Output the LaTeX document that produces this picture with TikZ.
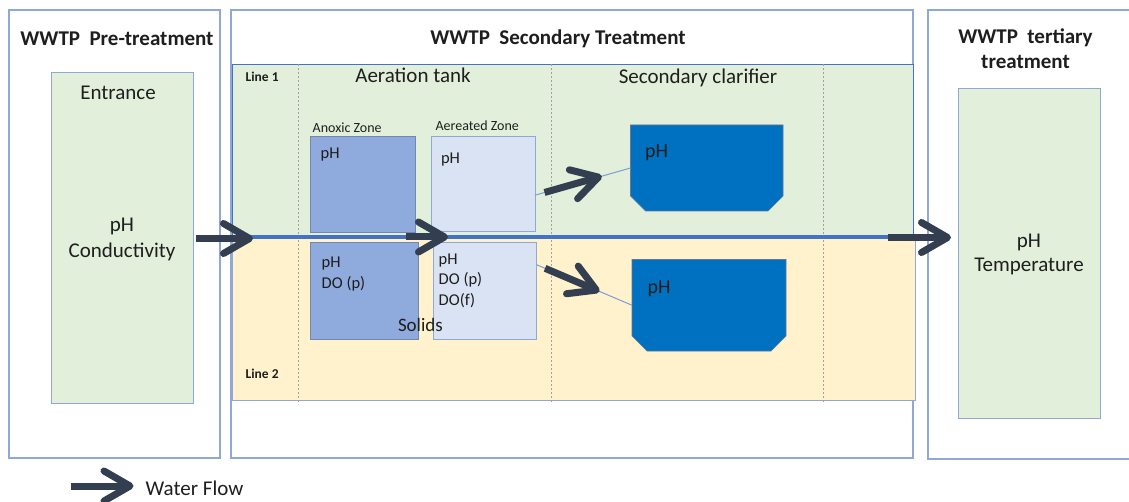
\documentclass[tikz,border=0pt]{standalone}
\usepackage{fontspec}
\setmainfont{Carlito}
\usetikzlibrary{arrows.meta,calc}

\definecolor{stageline}{HTML}{8EA9D8}
\definecolor{panelline}{HTML}{4472C4}
\definecolor{greenfill}{HTML}{E2EFDA}
\definecolor{yellowfill}{HTML}{FFF2CC}
\definecolor{anoxfill}{HTML}{8FAADC}
\definecolor{aerfill}{HTML}{DAE3F3}
\definecolor{clarfill}{HTML}{0070C0}
\definecolor{flowdark}{HTML}{333F50}
\definecolor{mainblue}{HTML}{4472C4}
\definecolor{thinblue}{HTML}{7C9DD6}
\definecolor{sepgray}{HTML}{A0A0A0}
\definecolor{ink}{HTML}{1E1E1E}

\begin{document}
\begin{tikzpicture}[x=1pt,y=-1pt,
  boxbase/.style={inner sep=0pt, outer sep=0pt, anchor=north west},
  stage/.style={boxbase, draw=stageline, line width=1.1pt, fill=white},
  greenbox/.style={boxbase, draw=stageline, line width=1pt, fill=greenfill},
  anox/.style={boxbase, draw=stageline!80!black, line width=0.8pt, fill=anoxfill},
  aer/.style={boxbase, draw=stageline, line width=0.8pt, fill=aerfill},
  clarbox/.style={fill=clarfill, draw=stageline!70!black, line width=0.6pt},
  lbl/.style={inner sep=0pt, outer sep=0pt, text=ink},
  title/.style={lbl, anchor=base, font=\fontsize{21}{25}\selectfont\bfseries},
  big/.style={lbl, font=\fontsize{21}{25}\selectfont},
  mid/.style={lbl, anchor=base west, font=\fontsize{16.5}{20}\selectfont},
  small/.style={lbl, anchor=base west, font=\fontsize{14}{17}\selectfont},
  linetag/.style={lbl, anchor=base west, font=\fontsize{13.5}{16}\selectfont\bfseries},
  flow/.style={draw=flowdark, line width=7pt, -{Straight Barb[length=26pt, width=30pt, round]}},
  feed/.style={draw=thinblue, line width=1pt},
  sep/.style={draw=sepgray, line width=0.8pt, dash pattern=on 2pt off 2pt}
]
\useasboundingbox (0,0) rectangle (1129,502);

% ---- stage frames ----
\node[stage, minimum width=211pt, minimum height=448pt] (pre) at (9,10) {};
\node[stage, minimum width=682pt, minimum height=448pt] (sec) at (231,10) {};
\node[boxbase, minimum width=201pt, minimum height=449pt] (ter) at (928,10) {};
\draw[draw=stageline, line width=1.1pt]
  (ter.north east) -- (ter.north west) -- (ter.south west) -- (ter.south east);

% ---- pre-treatment and tertiary measuring boxes ----
\node[greenbox, minimum width=142pt, minimum height=330pt] (entr) at (51,73) {};
\node[greenbox, minimum width=142pt, minimum height=329pt] (tbox) at (958,89) {};

% ---- secondary treatment: two lines ----
\node[boxbase, fill=greenfill, draw=panelline, line width=0.8pt,
      minimum width=681pt, minimum height=173.5pt] (line1) at (232,64) {};
\node[boxbase, fill=yellowfill, draw=stageline, line width=0.8pt,
      minimum width=683pt, minimum height=162.5pt] (line2) at (232,237.5) {};

% column separators
\draw[sep] (298,64) -- (298,404);
\draw[sep] (551.5,64) -- (551.5,404);
\draw[sep] (823.5,64) -- (823.5,404);

% aeration tank zones
\node[anox, minimum width=105.5pt, minimum height=96.5pt] (anxU) at (310,136) {};
\node[anox, minimum width=108pt, minimum height=97pt] (anxL) at (310,242) {};
\node[aer, minimum width=104pt, minimum height=95.5pt] (aerU) at (431,136) {};
\node[aer, minimum width=103.5pt, minimum height=96.5pt] (aerL) at (433,242.5) {};

% secondary clarifiers (bottom corners cut)
\node[boxbase, minimum width=152.5pt, minimum height=86pt] (clU) at (630.5,125) {};
\node[boxbase, minimum width=154pt, minimum height=91.5pt] (clL) at (632,259.5) {};
\foreach \c in {clU,clL}{
  \draw[clarbox] (\c.north west) -- (\c.north east)
    -- ($(\c.south east)+(0,-15)$) -- ($(\c.south east)+(-15,0)$)
    -- ($(\c.south west)+(15,0)$) -- ($(\c.south west)+(0,-15)$) -- cycle;
}

% ---- main water line ----
\coordinate (blueA) at (245,237.5);
\coordinate (blueB) at (890,237.5);
\draw[draw=mainblue, line width=4pt] (blueA) -- (blueB);

% feeds from aerated zones to clarifiers
\coordinate (fuA) at ($(aerU.north east)!0.62!(aerU.south east)$);
\coordinate (fuB) at ($(clU.north west)!0.5!(clU.south west)$);
\coordinate (flA) at ($(aerL.north east)!0.23!(aerL.south east)$);
\coordinate (flB) at ($(clL.north west)!0.5!(clL.south west)$);
\draw[feed] (fuA) -- (fuB);
\draw[feed] (flA) -- (flB);
\path (fuA) -- (fuB) coordinate[pos=0.1] (fu1) coordinate[pos=0.7] (fu2);
\path (flA) -- (flB) coordinate[pos=0.09] (fl1) coordinate[pos=0.66] (fl2);
\draw[flow] (fu1) -- (fu2);
\draw[flow] (fl1) -- (fl2);

% ---- water flow arrows ----
\coordinate (f1a) at ($(entr.east |- blueA)+(3,1)$);
\coordinate (f1b) at (253,238.5);
\coordinate (f2a) at (406,237);
\coordinate (f2b) at (448,237);
\coordinate (f3a) at (888,237.5);
\coordinate (f3b) at (951,237.5);
\draw[flow] (f1a) -- (f1b);
\draw[flow] (f2a) -- (f2b);
\draw[flow] (f3a) -- (f3b);

% ---- texts ----
\node[title] (tpre) at (117,45.7) {WWTP\ \ Pre-treatment};
\node[title] (tsec) at (558,45) {WWTP\ \ Secondary Treatment};
\node[title] (tter1) at (1025.5,43.3) {WWTP\ \ tertiary};
\node[title] (tter2) at (1025.5,69) {treatment};

\node[big, anchor=base] (tentr) at (118,100) {Entrance};
\node[big, anchor=base] (epH) at (122,231.7) {pH};
\node[big, anchor=base] (econd) at (122,257.5) {Conductivity};

\node[big, anchor=base] (tpH) at (1029,247.3) {pH};
\node[big, anchor=base] (ttemp) at (1029,271.7) {Temperature};

\node[linetag] (l1) at (245.7,82) {Line 1};
\node[linetag] (l2) at (245.7,378.3) {Line 2};
\node[big, anchor=base] (taer) at (413,83) {Aeration tank};
\node[big, anchor=base] (tclar) at (698,84) {Secondary clarifier};

\node[small] (tanx) at (312.7,132.7) {Anoxic Zone};
\node[small] (taez) at (435.5,130.7) {Aereated Zone};

\node[mid] (pa1) at (320.7,159) {pH};
\node[mid] (pa2) at (441,163.3) {pH};
\node[mid] (pb1) at (321.7,267.7) {pH};
\node[mid] (pb2) at (321.7,288.3) {DO (p)};
\node[mid] (pc1) at (438.7,264.3) {pH};
\node[mid] (pc2) at (438.7,285) {DO (p)};
\node[mid] (pc3) at (438.7,306) {DO(f)};
\node[lbl, anchor=base west, font=\fontsize{19}{23}\selectfont] (tsol) at (398,331) {Solids};

\node[lbl, anchor=base west, font=\fontsize{20}{24}\selectfont] (cpH1) at (645,157.3) {pH};
\node[lbl, anchor=base west, font=\fontsize{20}{24}\selectfont] (cpH2) at (647.7,293.3) {pH};

% ---- legend ----
\coordinate (lgA) at (71,486);
\coordinate (lgB) at (133.5,486);
\draw[flow] (lgA) -- (lgB);
\node[big, anchor=base west] (tlg) at (145.7,495) {Water Flow};
\end{tikzpicture}
\end{document}
